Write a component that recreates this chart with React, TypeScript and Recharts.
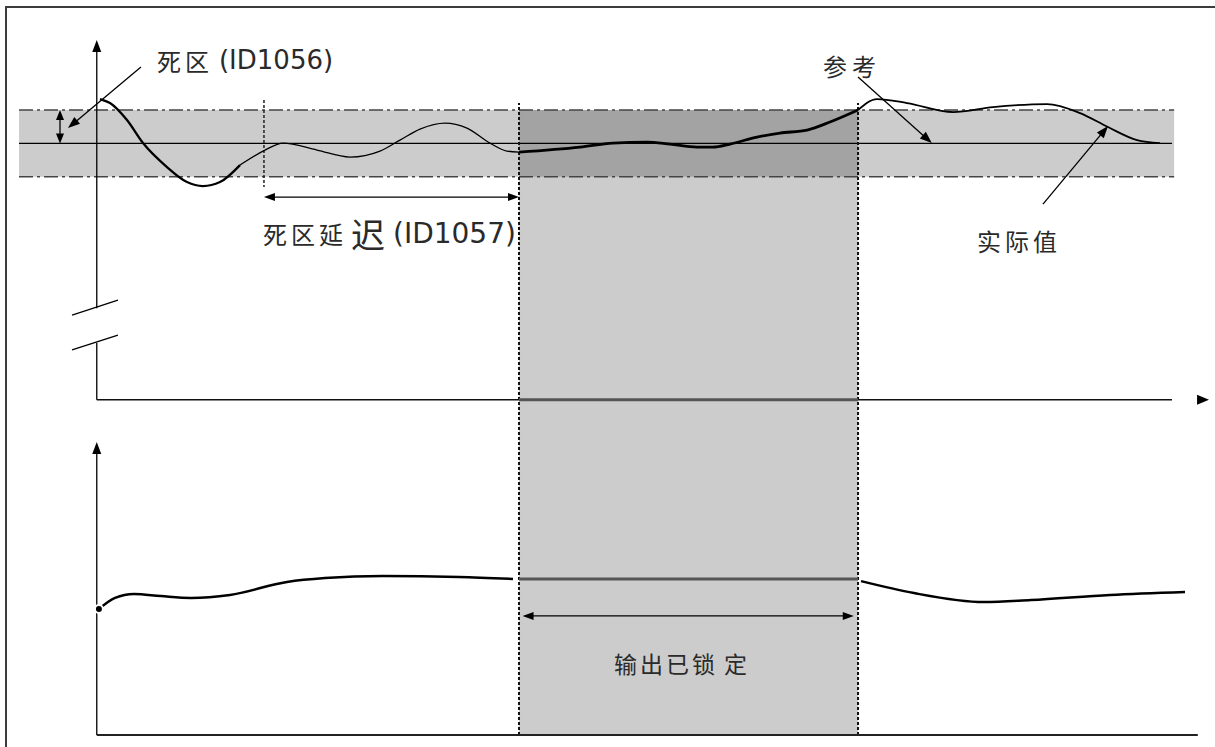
import React from "react"
import {
  ComposedChart,
  Line,
  XAxis,
  YAxis,
  ReferenceArea,
  ReferenceLine,
  ReferenceDot,
} from "recharts"

// time: 0 = origin of both panels, 100 = end of the upper time axis
const T_DOMAIN: [number, number] = [-9, 104]
// process value, relative to the reference, in deadband units
const PV_DOMAIN: [number, number] = [-18.1, 4.3]
// controller output, %
const OUT_DOMAIN: [number, number] = [-4, 245]

const reference = 0
const deadband = 1
const bandStart = -7.23
const bandEnd = 100.2
const delayStart = 15.55
const lockStart = 39.27
const lockEnd = 70.8
const topAxisLevel = -7.69
const lockedOutput = 52

// actual value, settling after a step (thick part)
const settleT = [0.3, 1.23, 2.81, 4.3, 6.53, 8.39, 9.88, 11.46, 13.32]
const settleV = [1.33, 1.21, 0.7, 0.01, -0.71, -1.16, -1.28, -1.16, -0.65]
// small oscillation inside the deadband during the delay
const rippleT = [13.32, 15.65, 17.32, 20.48, 23.55, 26.34, 28.2, 30.06, 32.39, 34.43, 36.57, 38.15, 39.27]
const rippleV = [-0.65, -0.2, 0.01, -0.2, -0.41, -0.23, 0.1, 0.43, 0.61, 0.46, 0.01, -0.23, -0.26]
// while the output is locked
const lockedT = [39.27, 44.94, 48.01, 51.17, 53.31, 55.82, 57.31, 58.89, 61.41, 63.54, 66.06, 68.19, 70.8]
const lockedV = [-0.26, -0.11, 0.01, 0.04, -0.02, -0.11, -0.11, -0.02, 0.19, 0.31, 0.4, 0.64, 1.0]
// after leaving the deadband
const afterT = [70.8, 72.57, 75.36, 79.64, 83.36, 88.38, 91.45, 94.05, 96.75, 98.89]
const afterV = [1.0, 1.33, 1.21, 0.94, 1.09, 1.18, 0.91, 0.49, 0.1, 0.01]

// controller output
const outBeforeT = [0.2, 1.7, 3.46, 5.97, 8.76, 12.39, 17.69, 21.23, 26.62, 33.69, 38.71]
const outBeforeV = [42.0, 45.7, 47.0, 46.3, 45.7, 46.7, 51.0, 52.3, 53.0, 52.7, 52.0]
const outAfterT = [71.08, 76.01, 82.52, 86.89, 94.24, 101.21]
const outAfterV = [51.3, 47.3, 44.3, 45.0, 46.7, 47.7]

const deadbandLabel = ["死区", "(ID1056)"]
const delayLabel = ["死区延", "迟", "(ID1057)"]
const referenceLabel = "参考"
const actualLabel = "实际值"
const lockedLabel = ["输出已锁", "定"]

const pts = (ts: number[], vs: number[]) => ts.map((t, i) => ({ t, v: vs[i] }))

const CJK = '"Noto Sans CJK SC", sans-serif'
const LATIN = '"DejaVu Sans", Verdana, sans-serif'

type Heads = "none" | "end" | "both" | "headOnly"

function arrowShape(heads: Heads, len = 11, half = 4) {
  return (p: any) => {
    const { x1, y1, x2, y2 } = p
    const stroke = p.stroke || "#000"
    const a = Math.atan2(y2 - y1, x2 - x1)
    const c = Math.cos(a)
    const s = Math.sin(a)
    const tri = (x: number, y: number, dir: number, l: number) => {
      const bx = x - dir * l * c
      const by = y - dir * l * s
      return (
        <polygon
          points={`${x},${y} ${bx + half * s},${by - half * c} ${bx - half * s},${by + half * c}`}
          fill={stroke}
        />
      )
    }
    if (heads === "headOnly") {
      const l = Math.hypot(x2 - x1, y2 - y1)
      return <g>{tri(x2, y2, 1, l)}</g>
    }
    const sx = heads === "both" ? x1 + len * 0.8 * c : x1
    const sy = heads === "both" ? y1 + len * 0.8 * s : y1
    const ex = heads !== "none" ? x2 - len * 0.8 * c : x2
    const ey = heads !== "none" ? y2 - len * 0.8 * s : y2
    return (
      <g>
        <line
          x1={sx}
          y1={sy}
          x2={ex}
          y2={ey}
          stroke={stroke}
          strokeWidth={p.strokeWidth}
          strokeDasharray={p.strokeDasharray}
        />
        {heads !== "none" && tri(x2, y2, 1, len)}
        {heads === "both" && tri(x1, y1, -1, len)}
      </g>
    )
  }
}

type Part = { text: string; font: string; size: number; dx?: number; spacing?: number }

function textShape(parts: Part[]) {
  return (p: any) => (
    <text x={p.cx} y={p.cy} dominantBaseline="central" fill="#2a2a2a">
      {parts.map((q, i) => (
        <tspan
          key={i}
          dx={q.dx || 0}
          fontFamily={q.font}
          fontSize={q.size}
          letterSpacing={q.spacing || 0}
        >
          {q.text}
        </tspan>
      ))}
    </text>
  )
}

export default function App() {
  return (
    <div style={{ position: "absolute", left: 0, top: 0, width: 1215, height: 747, background: "#fff" }}>
      <div
        style={{
          position: "absolute",
          left: 5,
          top: 6,
          right: 0,
          bottom: 0,
          borderTop: "2px solid #3c3c3c",
          borderLeft: "2px solid #3c3c3c",
        }}
      />
      <div style={{ position: "absolute", left: 0, top: 0 }}>
        <ComposedChart width={1215} height={747} margin={{ top: 0, right: 0, bottom: 0, left: 0 }}>
          <XAxis type="number" dataKey="t" domain={T_DOMAIN} hide allowDataOverflow />
          <YAxis yAxisId="pv" type="number" domain={PV_DOMAIN} hide allowDataOverflow />
          <YAxis yAxisId="out" type="number" domain={OUT_DOMAIN} hide allowDataOverflow />

          {/* deadband and locked region */}
          <ReferenceArea
            yAxisId="pv"
            x1={bandStart}
            x2={bandEnd}
            y1={reference - deadband}
            y2={reference + deadband}
            fill="#cccccc"
            fillOpacity={1}
            stroke="none"
          />
          <ReferenceArea
            yAxisId="out"
            x1={lockStart}
            x2={lockEnd}
            y1={0}
            y2={186}
            fill="#cccccc"
            fillOpacity={1}
            stroke="none"
          />
          <ReferenceArea
            yAxisId="pv"
            x1={lockStart}
            x2={lockEnd}
            y1={reference - deadband}
            y2={reference + deadband}
            fill="#a3a3a3"
            fillOpacity={1}
            stroke="none"
          />

          {/* deadband limits and reference */}
          {[reference + deadband, reference - deadband].map((y) => (
            <ReferenceLine
              key={y}
              yAxisId="pv"
              segment={[{ x: bandStart, y }, { x: bandEnd, y }]}
              stroke="#444"
              strokeWidth={1.4}
              strokeDasharray="14 4 3 4"
            />
          ))}
          <ReferenceLine
            yAxisId="pv"
            segment={[{ x: bandStart, y: reference }, { x: 100, y: reference }]}
            stroke="#000"
            strokeWidth={1.3}
          />

          {/* dotted markers */}
          {[lockStart, lockEnd].map((x) => (
            <ReferenceLine
              key={x}
              yAxisId="out"
              segment={[{ x, y: 0 }, { x, y: 210.7 }]}
              stroke="#111"
              strokeWidth={2}
              strokeDasharray="3 2"
            />
          ))}
          <ReferenceLine
            yAxisId="pv"
            segment={[{ x: delayStart, y: 1.3 }, { x: delayStart, y: -1.31 }]}
            stroke="#222"
            strokeWidth={1.5}
            strokeDasharray="3 2"
          />

          {/* upper panel axes */}
          <ReferenceLine
            yAxisId="pv"
            segment={[{ x: 0, y: -4.94 }, { x: 0, y: 3.1 }]}
            stroke="#000"
            strokeWidth={1.3}
            shape={arrowShape("end", 12, 4.5)}
          />
          <ReferenceLine
            yAxisId="pv"
            segment={[{ x: 0, y: -5.98 }, { x: 0, y: topAxisLevel }]}
            stroke="#000"
            strokeWidth={1.3}
          />
          <ReferenceLine
            yAxisId="pv"
            segment={[{ x: -2.3, y: -5.15 }, { x: 1.97, y: -4.7 }]}
            stroke="#000"
            strokeWidth={1.3}
          />
          <ReferenceLine
            yAxisId="pv"
            segment={[{ x: -2.3, y: -6.19 }, { x: 1.97, y: -5.75 }]}
            stroke="#000"
            strokeWidth={1.3}
          />
          <ReferenceLine
            yAxisId="pv"
            segment={[{ x: 0, y: topAxisLevel }, { x: 100, y: topAxisLevel }]}
            stroke="#111"
            strokeWidth={1.5}
          />
          <ReferenceLine
            yAxisId="pv"
            segment={[{ x: lockStart, y: topAxisLevel }, { x: lockEnd, y: topAxisLevel }]}
            stroke="#555"
            strokeWidth={3}
          />
          <ReferenceLine
            yAxisId="pv"
            segment={[{ x: 102.33, y: topAxisLevel }, { x: 103.44, y: topAxisLevel }]}
            stroke="#000"
            shape={arrowShape("headOnly", 12, 5)}
          />

          {/* lower panel axes */}
          <ReferenceLine
            yAxisId="out"
            segment={[{ x: 0, y: 0 }, { x: 0, y: 97.7 }]}
            stroke="#000"
            strokeWidth={1.3}
            shape={arrowShape("end", 12, 4.5)}
          />
          <ReferenceLine
            yAxisId="out"
            segment={[{ x: 0, y: 0 }, { x: 102.4, y: 0 }]}
            stroke="#222"
            strokeWidth={2}
          />

          {/* annotation arrows */}
          <ReferenceLine
            yAxisId="pv"
            segment={[{ x: 4.11, y: 2.29 }, { x: -2.68, y: 0.46 }]}
            stroke="#000"
            strokeWidth={1.3}
            shape={arrowShape("end", 12, 4.5)}
          />
          <ReferenceLine
            yAxisId="pv"
            segment={[{ x: -3.42, y: reference }, { x: -3.42, y: reference + deadband }]}
            stroke="#000"
            strokeWidth={1.3}
            shape={arrowShape("both", 10, 4)}
          />
          <ReferenceLine
            yAxisId="pv"
            segment={[{ x: delayStart, y: -1.61 }, { x: lockStart, y: -1.61 }]}
            stroke="#000"
            strokeWidth={1.3}
            shape={arrowShape("both", 11, 4)}
          />
          <ReferenceLine
            yAxisId="pv"
            segment={[{ x: 70.8, y: 1.99 }, { x: 77.66, y: 0.01 }]}
            stroke="#000"
            strokeWidth={1.3}
            shape={arrowShape("end", 12, 4.5)}
          />
          <ReferenceLine
            yAxisId="pv"
            segment={[{ x: 88.0, y: -1.82 }, { x: 94.05, y: 0.52 }]}
            stroke="#000"
            strokeWidth={1.3}
            shape={arrowShape("end", 12, 4.5)}
          />
          <ReferenceLine
            yAxisId="out"
            segment={[{ x: 39.6, y: 39.7 }, { x: 70.4, y: 39.7 }]}
            stroke="#000"
            strokeWidth={1.3}
            shape={arrowShape("both", 11, 4)}
          />

          {/* actual value */}
          <Line yAxisId="pv" data={pts(settleT, settleV)} dataKey="v" type="monotone" stroke="#000" strokeWidth={2.3} dot={false} isAnimationActive={false} />
          <Line yAxisId="pv" data={pts(rippleT, rippleV)} dataKey="v" type="monotone" stroke="#000" strokeWidth={1.3} dot={false} isAnimationActive={false} />
          <Line yAxisId="pv" data={pts(lockedT, lockedV)} dataKey="v" type="monotone" stroke="#000" strokeWidth={2.8} dot={false} isAnimationActive={false} />
          <Line yAxisId="pv" data={pts(afterT, afterV)} dataKey="v" type="monotone" stroke="#000" strokeWidth={1.8} dot={false} isAnimationActive={false} />

          {/* output */}
          <Line yAxisId="out" data={pts(outBeforeT, outBeforeV)} dataKey="v" type="monotone" stroke="#000" strokeWidth={2.5} dot={false} isAnimationActive={false} />
          <Line yAxisId="out" data={pts([lockStart, lockEnd], [lockedOutput, lockedOutput])} dataKey="v" type="linear" stroke="#555" strokeWidth={3} dot={false} isAnimationActive={false} />
          <Line yAxisId="out" data={pts(outAfterT, outAfterV)} dataKey="v" type="monotone" stroke="#000" strokeWidth={2.5} dot={false} isAnimationActive={false} />

          {/* labels */}
          <ReferenceDot
            yAxisId="pv"
            x={5.6}
            y={2.5}
            shape={textShape([
              { text: deadbandLabel[0], font: CJK, size: 24, spacing: 4 },
              { text: deadbandLabel[1], font: LATIN, size: 26, dx: 6 },
            ])}
          />
          <ReferenceDot
            yAxisId="pv"
            x={15.46}
            y={-2.69}
            shape={textShape([
              { text: delayLabel[0], font: CJK, size: 24, spacing: 4 },
              { text: delayLabel[1], font: CJK, size: 34, dx: 4 },
              { text: delayLabel[2], font: LATIN, size: 28, dx: 8 },
            ])}
          />
          <ReferenceDot
            yAxisId="pv"
            x={67.54}
            y={2.35}
            shape={textShape([{ text: referenceLabel, font: CJK, size: 24, spacing: 5 }])}
          />
          <ReferenceDot
            yAxisId="pv"
            x={81.87}
            y={-2.9}
            shape={textShape([{ text: actualLabel, font: CJK, size: 24, spacing: 4 }])}
          />
          <ReferenceDot
            yAxisId="out"
            x={48.1}
            y={24}
            shape={textShape([
              { text: lockedLabel[0], font: CJK, size: 23, spacing: 3 },
              { text: lockedLabel[1], font: CJK, size: 23, dx: 6 },
            ])}
          />
        </ComposedChart>
      </div>
    </div>
  )
}
